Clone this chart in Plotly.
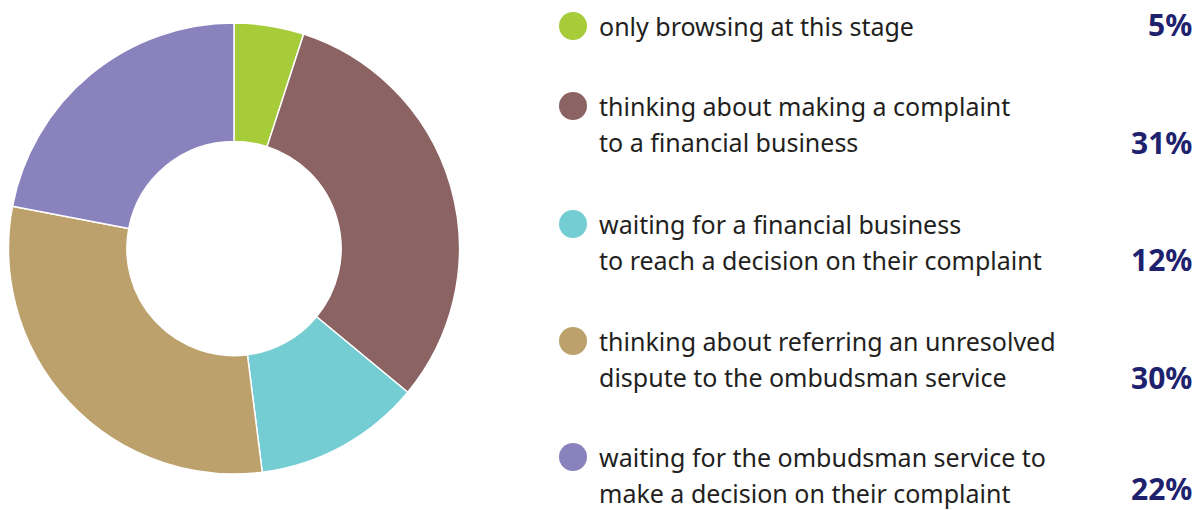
import plotly.graph_objects as go

categories = [
    "only browsing at this stage",
    "thinking about making a complaint<br>to a financial business",
    "waiting for a financial business<br>to reach a decision on their complaint",
    "thinking about referring an unresolved<br>dispute to the ombudsman service",
    "waiting for the ombudsman service to<br>make a decision on their complaint",
]
values = [5, 31, 12, 30, 22]
pct_labels = ["5%", "31%", "12%", "30%", "22%"]
colors = ["#a6cd39", "#8b6363", "#73cdd2", "#bda16c", "#8982bd"]

W, H = 1199, 510

fig = go.Figure()
fig.add_trace(go.Pie(
    labels=[c.replace("<br>", " ") for c in categories],
    values=values,
    hole=0.475,
    sort=False,
    direction="clockwise",
    rotation=0,
    marker=dict(colors=colors, line=dict(color="white", width=1.5)),
    textinfo="none",
    hoverinfo="label+percent",
    domain=dict(x=[8 / W, 460 / W], y=[36 / H, 487 / H]),
    showlegend=False,
))

# legend layout (pixel positions of each entry's first line)
first_line_y = [26, 106, 224, 341, 457]
pct_y = [24, 142, 259, 377, 488]
line_gap = 36

shapes = []
annotations = []
for i, cat in enumerate(categories):
    y0 = first_line_y[i]
    r = 14
    shapes.append(dict(
        type="circle", xref="paper", yref="paper",
        x0=(573 - r) / W, x1=(573 + r) / W,
        y0=1 - (y0 + r) / H, y1=1 - (y0 - r) / H,
        fillcolor=colors[i], line=dict(width=0),
    ))
    for j, line in enumerate(cat.split("<br>")):
        annotations.append(dict(
            x=598 / W, y=1 - (y0 + j * line_gap) / H, xref="paper", yref="paper",
            text=line, showarrow=False, xanchor="left", yanchor="middle",
            borderpad=0,
            font=dict(family="Noto Sans", size=25, color="#231f20"),
        ))
    annotations.append(dict(
        x=1193 / W, y=1 - pct_y[i] / H, xref="paper", yref="paper",
        text="<b>" + pct_labels[i] + "</b>", showarrow=False,
        xanchor="right", yanchor="middle",
        borderpad=0,
        font=dict(family="Noto Sans", size=30, color="#1e226e"),
    ))

fig.update_layout(
    width=W, height=H,
    margin=dict(l=0, r=0, t=0, b=0),
    paper_bgcolor="white", plot_bgcolor="white",
    shapes=shapes, annotations=annotations,
)

fig.write_html(
    "out.html",
    config={"displayModeBar": False},
    post_script="document.body.style.margin='0';document.body.style.overflow='hidden';",
)
